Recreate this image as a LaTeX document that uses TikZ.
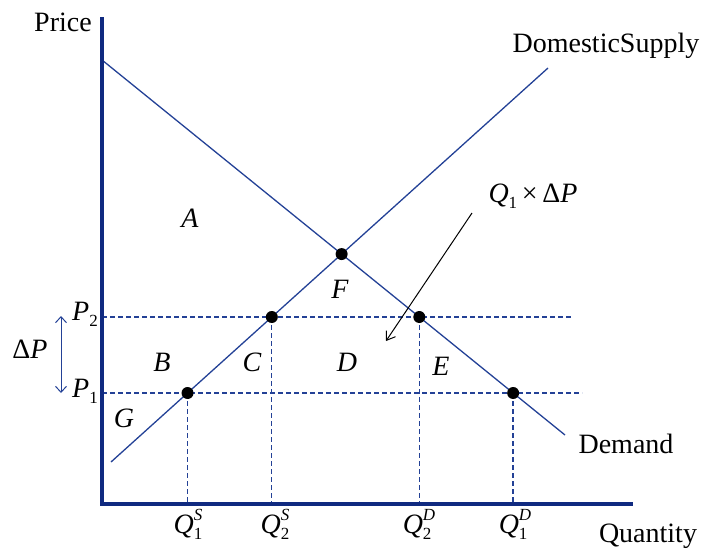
\documentclass[tikz,border=0pt]{standalone}
\usepackage{fontspec}
\setmainfont{Liberation Serif}
\usetikzlibrary{arrows.meta,intersections}
\definecolor{axisblue}{RGB}{16,42,128}
\definecolor{lineblue}{RGB}{35,65,150}
\newcommand{\lsub}[1]{\raisebox{-0.22em}{\fontsize{17}{17}\selectfont #1}}
\newcommand{\lsup}[1]{\raisebox{0.45em}{\fontsize{17}{17}\selectfont #1}}
\newcommand{\qlab}[2]{\textit{Q}\rlap{\lsub{#1}}\lsup{\textit{#2}}}
\begin{document}
\begin{tikzpicture}[x=1pt,y=-1pt,
  lbl/.style={font=\fontsize{28}{30}\selectfont, inner sep=0pt, anchor=base},
  axisline/.style={draw=axisblue, line width=3.5pt},
  curve/.style={draw=lineblue, line width=1.3pt},
  guide/.style={draw=lineblue, line width=1.3pt, dash pattern=on 5pt off 3pt},
  dotnode/.style={circle, fill=black, minimum size=12pt, inner sep=0pt},
  dblarrow/.style={{Straight Barb[length=6pt,width=11pt]}-{Straight Barb[length=6pt,width=11pt]}}
]
\useasboundingbox (0,0) rectangle (702,549);
% coordinates
\coordinate (O) at (102,504);
\coordinate (ytop) at (102,17);
\coordinate (xend) at (633,504);
\coordinate (S0) at (111,462);
\coordinate (S1) at (548,68);
\coordinate (D0) at (102,60);
\coordinate (D1) at (565,435);
\coordinate (P2ax) at (102,317);
\coordinate (P2end) at (573,317);
\coordinate (P1ax) at (102,393);
\coordinate (P1end) at (582,393);
% paths for intersections
\path[name path=supply] (S0) -- (S1);
\path[name path=demand] (D0) -- (D1);
\path[name path=ptwo] (P2ax) -- (P2end);
\path[name path=pone] (P1ax) -- (P1end);
\path[name intersections={of=supply and pone, by=is1}];
\path[name intersections={of=supply and ptwo, by=is2}];
\path[name intersections={of=demand and ptwo, by=id2}];
\path[name intersections={of=demand and pone, by=id1}];
\path[name intersections={of=supply and demand, by=ieq}];
% guides
\draw[guide] (P2ax) -- (P2end);
\draw[guide] (P1ax) -- (P1end);
\draw[guide] (is1) -- (is1 |- O);
\draw[guide] (is2) -- (is2 |- O);
\draw[guide] (id2) -- (id2 |- O);
\draw[guide] (id1) -- (id1 |- O);
% curves
\draw[curve] (S0) -- (S1);
\draw[curve] (D0) -- (D1);
% axes
\draw[axisline, line join=miter] (ytop) -- (O) -- (xend);
% dots
\node[dotnode] (dS1) at (is1) {};
\node[dotnode] (dS2) at (is2) {};
\node[dotnode] (dD2) at (id2) {};
\node[dotnode] (dD1) at (id1) {};
\node[dotnode] (dEq) at (ieq) {};
% text labels
\node[lbl] (price) at (63,31) {Price};
\node[lbl] (dsupply) at (606,52) {DomesticSupply};
\node[lbl] (demand) at (626,453) {Demand};
\node[lbl] (quantity) at (648,542) {Quantity};
\node[lbl, anchor=base west] (p2) at (72,320) {\textit{P}\lsub{2}};
\node[lbl, anchor=base west] (p1) at (72,397) {\textit{P}\lsub{1}};
\node[lbl] (dp) at (30,358) {Δ\textit{P}};
\node[lbl] (A) at (190,227) {\textit{A}};
\node[lbl] (B) at (162,371) {\textit{B}};
\node[lbl] (C) at (252,371) {\textit{C}};
\node[lbl] (D) at (347,371) {\textit{D}};
\node[lbl] (E) at (441,375) {\textit{E}};
\node[lbl] (F) at (340,298) {\textit{F}};
\node[lbl] (G) at (124,427) {\textit{G}};
\node[lbl] (qdp) at (533,202) {\textit{Q}\lsub{1}\,×\,Δ\textit{P}};
\node[lbl] (q1s) at (188,533) {\qlab{1}{S}};
\node[lbl] (q2s) at (275,533) {\qlab{2}{S}};
\node[lbl] (q2d) at (419,533) {\qlab{2}{D}};
\node[lbl] (q1d) at (515,533) {\qlab{1}{D}};
% arrows
\coordinate (dpTop) at (61,316);
\coordinate (dpBot) at (61,393);
\draw[lineblue, line width=1pt, dblarrow] (dpTop) -- (dpBot);
\coordinate (arrS) at (472,213);
\coordinate (arrE) at (386,341);
\draw[black, line width=1pt, -{Straight Barb[length=8pt,width=11pt]}] (arrS) -- (arrE);
\end{tikzpicture}
\end{document}
